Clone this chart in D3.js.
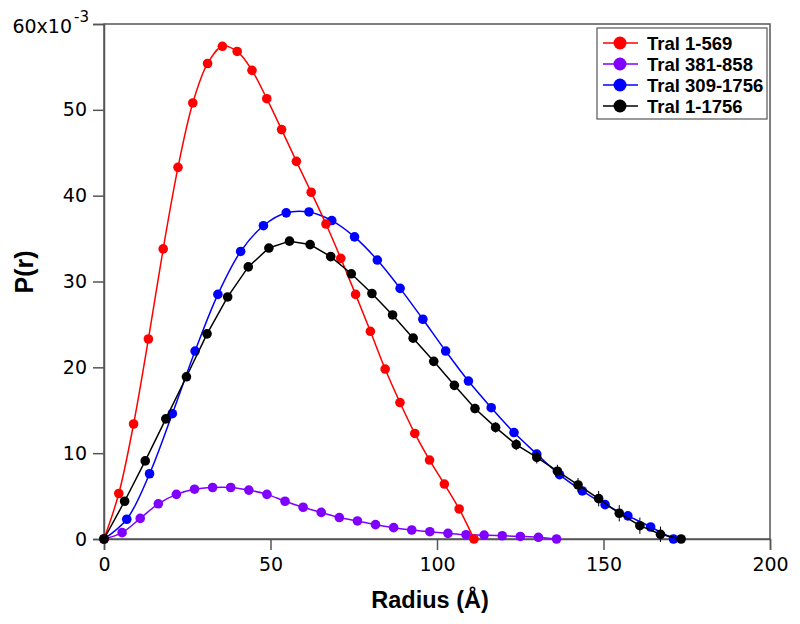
<!DOCTYPE html>
<html><head><meta charset="utf-8">
<script src="https://cdn.jsdelivr.net/npm/d3@7"></script>
<style>body{margin:0;background:#fff}</style>
</head><body>
<svg id="chart" width="800" height="624"></svg>
<script>
// Series data (P(r) values in units of 1e-3)
const redR = d3.range(26).map(i => i * 111.1 / 25);
const redP = [0, 5.3, 13.4, 23.3, 33.8, 43.3, 50.8, 55.4, 57.4, 56.8, 54.6, 51.3, 47.7, 44.0, 40.4, 36.7, 32.7, 28.5, 24.2, 19.8, 15.9, 12.3, 9.2, 6.4, 3.5, 0];
const purpleR = d3.range(26).map(i => i * 135.9 / 25);
const purpleP = [0, 0.74, 2.4, 4.1, 5.2, 5.8, 6.0, 6.0, 5.7, 5.2, 4.4, 3.7, 3.1, 2.5, 2.1, 1.67, 1.32, 1.05, 0.85, 0.66, 0.5, 0.45, 0.38, 0.3, 0.2, 0];
const blueR = d3.range(26).map(i => i * 171.0 / 25);
const blueP = [0, 2.3, 7.6, 14.6, 21.9, 28.5, 33.5, 36.5, 38.0, 38.1, 37.1, 35.2, 32.5, 29.2, 25.6, 21.9, 18.4, 15.3, 12.4, 9.9, 7.5, 5.6, 4.0, 2.7, 1.4, 0];
const blackR = d3.range(29).map(i => i * 173.3 / 28);
const blackP = [0, 4.4, 9.1, 14.0, 18.9, 23.9, 28.2, 31.7, 33.9, 34.7, 34.3, 32.9, 30.9, 28.6, 26.1, 23.4, 20.7, 17.9, 15.2, 13.0, 11.0, 9.5, 7.9, 6.3, 4.7, 3.0, 1.55, 0.55, 0];
const blackErr = [0, 0.2, 0.2, 0.2, 0.2, 0.25, 0.25, 0.25, 0.3, 0.3, 0.3, 0.35, 0.35, 0.4, 0.4, 0.45, 0.5, 0.5, 0.55, 0.6, 0.65, 0.7, 0.75, 0.8, 0.9, 0.95, 0.95, 0.9, 0];

const seriesNames = ["Tral 1-569", "Tral 381-858", "Tral 309-1756", "Tral 1-1756"];
const seriesColors = ["#ff0000", "#7f00ff", "#0000ff", "#000000"];
const xTicks = [0, 50, 100, 150, 200];
const yTicks = [0, 10, 20, 30, 40, 50, 60];

const series = [
  {name: seriesNames[1], color: seriesColors[1], r: purpleR, p: purpleP, curve: d3.curveCatmullRom},
  {name: seriesNames[2], color: seriesColors[2], r: blueR, p: blueP, curve: d3.curveCatmullRom},
  {name: seriesNames[0], color: seriesColors[0], r: redR, p: redP, curve: d3.curveCatmullRom},
  {name: seriesNames[3], color: seriesColors[3], r: blackR, p: blackP, err: blackErr, curve: d3.curveLinear}
];

const svg = d3.select("#chart");
const L = 104, R = 770, T = 24, B = 539;
const x = d3.scaleLinear().domain([0, 200]).range([L, R]);
const y = d3.scaleLinear().domain([0, 60]).range([B, T]);
const axisColor = "#555";
const tickFont = "'DejaVu Sans', sans-serif";
const boldFont = "'Liberation Sans', Arial, sans-serif";

// frame
svg.append("rect").attr("x", L).attr("y", T).attr("width", R - L).attr("height", B - T)
  .attr("fill", "none").attr("stroke", axisColor).attr("stroke-width", 1.5);

const xAxis = svg.append("g").attr("transform", `translate(0,${B})`)
  .call(d3.axisBottom(x).tickValues(xTicks).tickSize(11).tickPadding(8).tickFormat(d3.format("d")));
const yAxis = svg.append("g").attr("transform", `translate(${L},0)`)
  .call(d3.axisLeft(y).tickValues(yTicks).tickSize(11).tickPadding(6).tickFormat(d => d === 60 ? "" : d));
[xAxis, yAxis].forEach(g => {
  g.select(".domain").attr("stroke", axisColor).attr("stroke-width", 1.5);
  g.selectAll(".tick line").attr("stroke", axisColor).attr("stroke-width", 1.5);
  g.selectAll(".tick text").attr("fill", "#000").style("font-family", tickFont).style("font-size", "19px");
});
// top label 60x10^-3
svg.append("text").attr("x", 72).attr("y", 33)
  .attr("text-anchor", "end").style("font-family", tickFont).style("font-size", "19px").attr("fill", "#000")
  .text("60x10");
svg.append("text").attr("x", 74).attr("y", 22)
  .style("font-family", tickFont).style("font-size", "15px").attr("fill", "#000")
  .text("-3");

// axis titles
svg.append("text").attr("x", 430).attr("y", 608).attr("text-anchor", "middle")
  .style("font-family", boldFont).style("font-weight", "bold").style("font-size", "23.5px")
  .text("Radius (Å)");
svg.append("text").attr("transform", `translate(33,272) rotate(-90)`).attr("text-anchor", "middle")
  .style("font-family", boldFont).style("font-weight", "bold").style("font-size", "25px")
  .text("P(r)");

// series
series.forEach(s => {
  const pts = s.r.map((r, i) => ({r, p: s.p[i], e: s.err ? s.err[i] : 0}));
  const line = d3.line().x(d => x(d.r)).y(d => y(d.p)).curve(s.curve);
  const g = svg.append("g");
  g.append("path").attr("d", line(pts)).attr("fill", "none").attr("stroke", s.color).attr("stroke-width", 1.5);
  if (s.err) {
    g.selectAll("line.err").data(pts).enter().append("line")
      .attr("x1", d => x(d.r)).attr("x2", d => x(d.r))
      .attr("y1", d => y(d.p - d.e)).attr("y2", d => y(d.p + d.e))
      .attr("stroke", s.color).attr("stroke-width", 1);
  }
  g.selectAll("circle").data(pts).enter().append("circle")
    .attr("cx", d => x(d.r)).attr("cy", d => y(d.p)).attr("r", 4.8).attr("fill", s.color);
});

// legend
const lg = svg.append("g");
lg.append("rect").attr("x", 597).attr("y", 28).attr("width", 170).attr("height", 91)
  .attr("fill", "#fff").attr("stroke", axisColor).attr("stroke-width", 1.2);
seriesNames.forEach((n, i) => {
  const yy = 43 + i * 21;
  lg.append("line").attr("x1", 603).attr("x2", 638).attr("y1", yy).attr("y2", yy)
    .attr("stroke", seriesColors[i]).attr("stroke-width", 1.5);
  lg.append("circle").attr("cx", 620).attr("cy", yy).attr("r", 6.5).attr("fill", seriesColors[i]);
  lg.append("text").attr("x", 647).attr("y", yy + 6.5)
    .style("font-family", boldFont).style("font-weight", "bold").style("font-size", "18.5px")
    .text(n);
});
</script>
</body></html>
